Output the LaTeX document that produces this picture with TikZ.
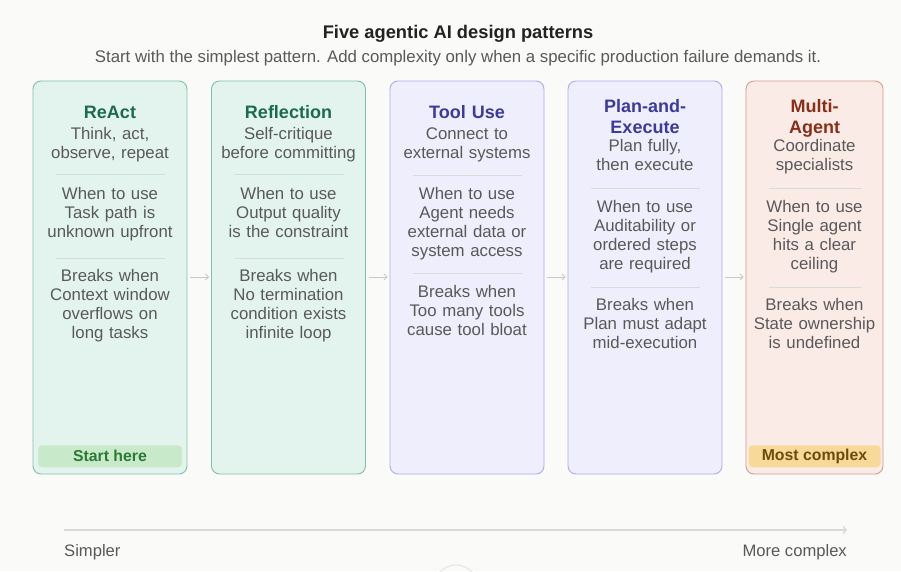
\documentclass[tikz,border=0pt]{standalone}
\usepackage{fontspec}
\setmainfont{Liberation Sans}
\usetikzlibrary{positioning,arrows.meta}

\definecolor{pagebg}{HTML}{FAFAF9}
\definecolor{titlegray}{HTML}{222222}
\definecolor{bodygray}{HTML}{595959}
\definecolor{sepgray}{HTML}{D6DCD9}
\definecolor{flowgray}{HTML}{C9C9C9}
\definecolor{grbg}{HTML}{E3F4EE}
\definecolor{grline}{HTML}{80BFA7}
\definecolor{grtitle}{HTML}{1E6A4D}
\definecolor{lvbg}{HTML}{EEEEFC}
\definecolor{lvline}{HTML}{ADAAEC}
\definecolor{lvtitle}{HTML}{3D3A9A}
\definecolor{pcbg}{HTML}{FAEBE6}
\definecolor{pcline}{HTML}{D59A8C}
\definecolor{pctitle}{HTML}{8A2E18}
\definecolor{startbg}{HTML}{C8EACB}
\definecolor{starttext}{HTML}{2B7A33}
\definecolor{mostbg}{HTML}{F7DA9A}
\definecolor{mosttext}{HTML}{6E4A10}

\tikzset{
  card/.style={rounded corners=8pt, line width=0.9pt, minimum width=154pt,
    minimum height=393pt, inner sep=0pt},
  greencard/.style={card, draw=grline, fill=grbg},
  lavcard/.style={card, draw=lvline, fill=lvbg},
  peachcard/.style={card, draw=pcline, fill=pcbg, minimum width=137pt},
  head/.style={font=\fontsize{18}{21}\selectfont\bfseries, align=center,
    text width=135pt, inner sep=0pt, anchor=base},
  body/.style={font=\fontsize{16.8}{19}\selectfont, text=bodygray, align=center,
    text width=150pt, inner sep=0pt, anchor=base},
  sepline/.style={draw=sepgray, line width=0.7pt, shorten <=23pt, shorten >=22pt},
  flow/.style={draw=flowgray, line width=0.9pt, shorten <=3pt, shorten >=2pt,
    -{Straight Barb[length=3pt,width=6pt]}},
  badge/.style={rounded corners=4pt, minimum height=22pt, inner sep=0pt,
    font=\fontsize{15.8}{18}\selectfont\bfseries},
}

\begin{document}
\begin{tikzpicture}[x=1pt,y=-1pt]
\useasboundingbox[fill=pagebg] (0,0) rectangle (901,571);

% heading
\node[font=\fontsize{18.3}{21}\selectfont\bfseries, text=titlegray, anchor=base] (title) at (458,38) {Five agentic AI design patterns};
\node[font=\fontsize{16.8}{19}\selectfont, text=bodygray, anchor=base] (subtitle) at (458,62)
  {Start with the simplest pattern. Add complexity only when a specific production failure demands it.};

% the five cards
\node[greencard] (react) at (110,277.5) {};
\node[greencard] (refl) at (288.5,277.5) {};
\node[lavcard] (tool) at (467,277.5) {};
\node[lavcard] (plan) at (645,277.5) {};
\node[peachcard] (multi) at (814.5,277.5) {};

% ReAct
\node[head, text=grtitle] (reactT) at (react.north |- 0,118) {ReAct};
\node[body] (reactS) at (react.north |- 0,139) {Think, act,\\observe, repeat};
\draw[sepline] (react.west |- 0,174) -- (react.east |- 0,174);
\node[body] (reactW) at (react.north |- 0,199) {When to use\\Task path is\\unknown upfront};
\draw[sepline] (react.west |- 0,258) -- (react.east |- 0,258);
\node[body] (reactB) at (react.north |- 0,281) {Breaks when\\Context window\\overflows on\\long tasks};
\node[badge, fill=startbg, text=starttext, minimum width=144pt, anchor=south] (start)
  at ([yshift=7pt]react.south) {Start here};

% Reflection
\node[head, text=grtitle] (reflT) at (refl.north |- 0,118) {Reflection};
\node[body] (reflS) at (refl.north |- 0,139) {Self-critique\\before committing};
\draw[sepline] (refl.west |- 0,174) -- (refl.east |- 0,174);
\node[body] (reflW) at (refl.north |- 0,199) {When to use\\Output quality\\is the constraint};
\draw[sepline] (refl.west |- 0,258) -- (refl.east |- 0,258);
\node[body] (reflB) at (refl.north |- 0,281) {Breaks when\\No termination\\condition exists\\infinite loop};

% Tool Use
\node[head, text=lvtitle] (toolT) at (tool.north |- 0,118) {Tool Use};
\node[body] (toolS) at (tool.north |- 0,139) {Connect to\\external systems};
\draw[sepline] (tool.west |- 0,175) -- (tool.east |- 0,175);
\node[body] (toolW) at (tool.north |- 0,199) {When to use\\Agent needs\\external data or\\system access};
\draw[sepline] (tool.west |- 0,273) -- (tool.east |- 0,273);
\node[body] (toolB) at (tool.north |- 0,297) {Breaks when\\Too many tools\\cause tool bloat};

% Plan-and-Execute
\node[head, text=lvtitle] (planT) at (plan.north |- 0,112) {Plan-and-\\Execute};
\node[body] (planS) at (plan.north |- 0,151) {Plan fully,\\then execute};
\draw[sepline] (plan.west |- 0,188) -- (plan.east |- 0,188);
\node[body] (planW) at (plan.north |- 0,212) {When to use\\Auditability or\\ordered steps\\are required};
\draw[sepline] (plan.west |- 0,287) -- (plan.east |- 0,287);
\node[body] (planB) at (plan.north |- 0,310) {Breaks when\\Plan must adapt\\mid-execution};

% Multi-Agent
\node[head, text=pctitle] (multiT) at (multi.north |- 0,112) {Multi-\\Agent};
\node[body, text width=135pt] (multiS) at (multi.north |- 0,151) {Coordinate\\specialists};
\draw[sepline] (multi.west |- 0,188) -- (multi.east |- 0,188);
\node[body, text width=135pt] (multiW) at (multi.north |- 0,212) {When to use\\Single agent\\hits a clear\\ceiling};
\draw[sepline] (multi.west |- 0,287) -- (multi.east |- 0,287);
\node[body, text width=135pt] (multiB) at (multi.north |- 0,310) {Breaks when\\State ownership\\is undefined};
\node[badge, fill=mostbg, text=mosttext, minimum width=132pt, anchor=south] (most)
  at ([yshift=7pt]multi.south) {Most complex};

% arrows between cards
\draw[flow] (react.east |- 0,277) -- (refl.west |- 0,277);
\draw[flow] (refl.east |- 0,277) -- (tool.west |- 0,277);
\draw[flow] (tool.east |- 0,277) -- (plan.west |- 0,277);
\draw[flow] (plan.east |- 0,277) -- (multi.west |- 0,277);

% complexity axis
\coordinate (lo) at (64,530);
\coordinate (hi) at (847,530);
\draw[draw=black!15, line width=1.3pt, -{Straight Barb[length=3pt,width=7pt]}] (lo) -- (hi);
\node[font=\fontsize{16.6}{19}\selectfont, text=bodygray, anchor=base west, inner sep=0pt] (simp) at (64,556) {Simpler};
\node[font=\fontsize{16.6}{19}\selectfont, text=bodygray, anchor=base east, inner sep=0pt] (cmplx) at (847,556) {More complex};
\draw[black!10, line width=1pt] (456,587) circle (22);
\end{tikzpicture}
\end{document}
